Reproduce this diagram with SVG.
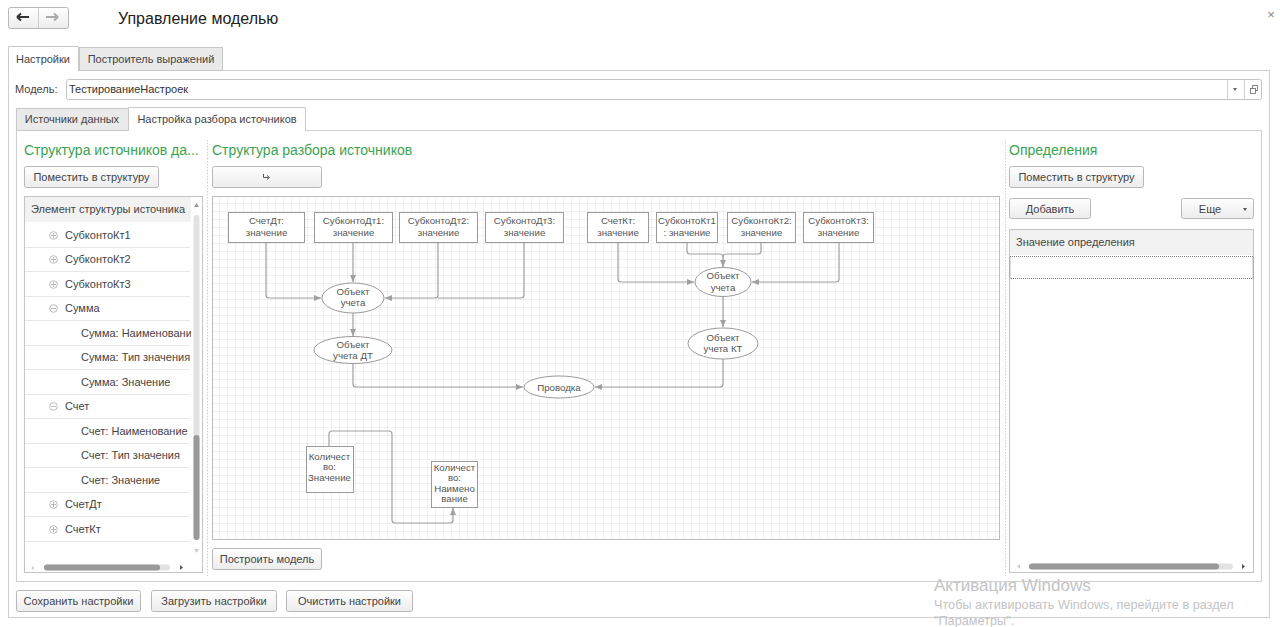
<svg xmlns="http://www.w3.org/2000/svg" width="1280" height="627" viewBox="0 0 1280 627">
<defs>
<style>
text{font-family:"Liberation Sans",Arial,sans-serif;fill:#444;}
.ui{font-size:11px;}
.hdr{font-size:14px;fill:#3aa34f;}
.btn{fill:url(#bg);stroke:#b8b8b8;stroke-width:1;}
.nt{font-size:9.7px;fill:#555;text-anchor:middle;}
.node{fill:#fff;stroke:#9a9a9a;stroke-width:1;}
.conn{fill:none;stroke:#a0a0a0;stroke-width:1.2;}
.row{stroke:#e6e6e6;stroke-width:1;}
.exp{fill:none;stroke:#aaa;stroke-width:0.8;}
.wm{fill:#c4c4c4;}
</style>
<linearGradient id="bg" x1="0" y1="0" x2="0" y2="1">
<stop offset="0" stop-color="#ffffff"/>
<stop offset="1" stop-color="#ececec"/>
</linearGradient>
<pattern id="grid" x="212" y="196" width="8" height="8" patternUnits="userSpaceOnUse">
<path d="M8 0V8M0 8H8" fill="none" stroke="#e2e2e2" stroke-width="1"/>
</pattern>
<marker id="arr" markerWidth="8" markerHeight="8" refX="7" refY="4" orient="auto" markerUnits="userSpaceOnUse">
<path d="M0 1L7 4L0 7Z" fill="#a0a0a0"/>
</marker>
<clipPath id="treeclip"><rect x="25" y="222" width="166" height="330"/></clipPath>
</defs>

<rect width="1280" height="627" fill="#fff"/>

<!-- header -->
<g id="navbuttons">
<rect x="8.5" y="7.5" width="60" height="21" rx="2" class="btn"/>
<line x1="38.5" y1="8" x2="38.5" y2="28" stroke="#ccc"/>
<path d="M17 17H29M17 17L21 13.5M17 17L21 20.5" stroke="#333" stroke-width="2" fill="none"/>
<path d="M58 17H46M58 17L54 13.5M58 17L54 20.5" stroke="#aaa" stroke-width="2" fill="none"/>
</g>
<text x="118" y="24" style="font-size:16px;fill:#222">Управление моделью</text>
<text x="1271" y="19" style="font-size:13px;fill:#888" text-anchor="middle">×</text>

<!-- outer tabs & panel -->
<g id="outerpanel">
<rect x="8.5" y="70.5" width="1261" height="547" fill="#fff" stroke="#cfcfcf"/>
<rect x="79.5" y="47.5" width="143" height="23" fill="#eaeaea" stroke="#c8c8c8"/>
<text x="151" y="63" class="ui" text-anchor="middle">Построитель выражений</text>
<path d="M8.5 71V46.5H78.5V71" fill="#fff" stroke="#c8c8c8"/>
<rect x="9" y="69" width="69" height="3" fill="#fff"/>
<text x="43" y="63" class="ui" text-anchor="middle">Настройки</text>
</g>

<g id="modelfield">
<text x="15" y="93" class="ui">Модель:</text>
<rect x="66.5" y="79.5" width="1195" height="20" rx="2" fill="#fff" stroke="#c4c4c4"/>
<line x1="1227.5" y1="80" x2="1227.5" y2="99" stroke="#d0d0d0"/>
<line x1="1244.5" y1="80" x2="1244.5" y2="99" stroke="#d0d0d0"/>
<path d="M1233 88L1237 88L1235 91Z" fill="#666"/>
<rect x="1250.5" y="88.5" width="5" height="5" fill="none" stroke="#666" stroke-width="0.8"/>
<path d="M1252.5 88.5V85.5H1257.5V90.5H1255.5" fill="none" stroke="#666" stroke-width="0.8"/>
<text x="69" y="93" class="ui" style="fill:#333">ТестированиеНастроек</text>
</g>

<!-- inner tabs & panel -->
<g id="innerpanel">
<rect x="16.5" y="130.5" width="1245" height="451" fill="#fff" stroke="#cfcfcf"/>
<rect x="16.5" y="108.5" width="112" height="22" fill="#eaeaea" stroke="#c8c8c8"/>
<text x="72" y="123" class="ui" text-anchor="middle">Источники данных</text>
<path d="M128.5 131V107.5H305.5V131" fill="#fff" stroke="#c8c8c8"/>
<rect x="129" y="129" width="176" height="3" fill="#fff"/>
<text x="217" y="123" class="ui" text-anchor="middle">Настройка разбора источников</text>
<line x1="207.5" y1="140" x2="207.5" y2="576" stroke="#cfcfcf" stroke-dasharray="1.5 1.5"/>
<line x1="1005.5" y1="140" x2="1005.5" y2="576" stroke="#cfcfcf" stroke-dasharray="1.5 1.5"/>
</g>

<!-- left panel -->
<g id="leftpanel">
<text x="24" y="155" class="hdr">Структура источников да...</text>
<rect x="24.5" y="166.5" width="134" height="21" rx="2" class="btn"/>
<text x="91.5" y="181" class="ui" text-anchor="middle">Поместить в структуру</text>
<rect x="24.5" y="196.5" width="178" height="376" fill="#fff" stroke="#c4c4c4"/>
<rect x="25" y="197" width="166" height="25" fill="#f2f2f2"/>
<text x="31" y="213" class="ui">Элемент структуры источника</text>
<g class="rows">
<line x1="25" y1="247.5" x2="190" y2="247.5" class="row"/>
<line x1="25" y1="271.5" x2="190" y2="271.5" class="row"/>
<line x1="25" y1="296.5" x2="190" y2="296.5" class="row"/>
<line x1="25" y1="320.5" x2="190" y2="320.5" class="row"/>
<line x1="25" y1="345.5" x2="190" y2="345.5" class="row"/>
<line x1="25" y1="369.5" x2="190" y2="369.5" class="row"/>
<line x1="25" y1="394.5" x2="190" y2="394.5" class="row"/>
<line x1="25" y1="418.5" x2="190" y2="418.5" class="row"/>
<line x1="25" y1="443.5" x2="190" y2="443.5" class="row"/>
<line x1="25" y1="467.5" x2="190" y2="467.5" class="row"/>
<line x1="25" y1="492.5" x2="190" y2="492.5" class="row"/>
<line x1="25" y1="516.5" x2="190" y2="516.5" class="row"/>
<line x1="25" y1="541.5" x2="190" y2="541.5" class="row"/>
</g>
<g class="exps">
<circle cx="53.5" cy="235.5" r="3.8" class="exp"/><path d="M51 235.5H56M53.5 233V238" class="exp"/>
<circle cx="53.5" cy="259.5" r="3.8" class="exp"/><path d="M51 259.5H56M53.5 257V262" class="exp"/>
<circle cx="53.5" cy="284.5" r="3.8" class="exp"/><path d="M51 284.5H56M53.5 282V287" class="exp"/>
<circle cx="53.5" cy="308.5" r="3.8" class="exp"/><path d="M51 308.5H56" class="exp"/>
<circle cx="53.5" cy="406.5" r="3.8" class="exp"/><path d="M51 406.5H56" class="exp"/>
<circle cx="53.5" cy="504.5" r="3.8" class="exp"/><path d="M51 504.5H56M53.5 502V507" class="exp"/>
<circle cx="53.5" cy="529.5" r="3.8" class="exp"/><path d="M51 529.5H56M53.5 527V532" class="exp"/>
</g>
<g class="ui" clip-path="url(#treeclip)">
<text x="65" y="239">СубконтоКт1</text>
<text x="65" y="263">СубконтоКт2</text>
<text x="65" y="288">СубконтоКт3</text>
<text x="65" y="312">Сумма</text>
<text x="81" y="337">Сумма: Наименовани</text>
<text x="81" y="361">Сумма: Тип значения</text>
<text x="81" y="386">Сумма: Значение</text>
<text x="65" y="410">Счет</text>
<text x="81" y="435">Счет: Наименование</text>
<text x="81" y="459">Счет: Тип значения</text>
<text x="81" y="484">Счет: Значение</text>
<text x="65" y="508">СчетДт</text>
<text x="65" y="533">СчетКт</text>
</g>
<path d="M194 207L196.5 203L199 207Z" fill="#999"/>
<rect x="193.5" y="215" width="6" height="325" rx="3" fill="#e2e2e2"/>
<rect x="193.5" y="435" width="6" height="105" rx="3" fill="#9a9a9a"/>
<path d="M194 549L196.5 553L199 549Z" fill="#ccc"/>
<path d="M34 566L31 568L34 570Z" fill="#ccc"/>
<rect x="44" y="564.5" width="126" height="6" rx="3" fill="#e2e2e2"/>
<rect x="44" y="564.5" width="116" height="6" rx="3" fill="#9a9a9a"/>
<path d="M180 565L183 567.5L180 570Z" fill="#555"/>
</g>

<!-- center panel -->
<g id="centerpanel">
<text x="212" y="155" class="hdr">Структура разбора источников</text>
<rect x="212.5" y="166.5" width="109" height="21" rx="2" class="btn"/>
<path d="M263.5 174V177.5H268.5" fill="none" stroke="#555" stroke-width="1"/>
<path d="M267 175.5L269.5 177.5L267 179.5" fill="none" stroke="#555" stroke-width="1"/>
<rect x="212.5" y="196.5" width="787" height="343" fill="#fff" stroke="#bdbdbd"/>
<rect x="213" y="197" width="786" height="342" fill="url(#grid)"/>
<rect x="212.5" y="548.5" width="109" height="21" rx="2" class="btn"/>
<text x="267" y="563" class="ui" text-anchor="middle">Построить модель</text>
</g>

<!-- connectors -->
<g id="connectors">
<path d="M266 243V295Q266 298 269 298H321" class="conn" marker-end="url(#arr)"/>
<path d="M353 243V282" class="conn" marker-end="url(#arr)"/>
<path d="M438 243V295Q438 298 435 298H385" class="conn" marker-end="url(#arr)"/>
<path d="M524 243V295Q524 298 521 298H438" class="conn"/>
<path d="M353 313V336" class="conn" marker-end="url(#arr)"/>
<path d="M353 363V384Q353 387 356 387H523" class="conn" marker-end="url(#arr)"/>
<path d="M618 243V279Q618 282 621 282H694" class="conn" marker-end="url(#arr)"/>
<path d="M687 243V251Q687 254 690 254H720Q723 254 723 257V267" class="conn" marker-end="url(#arr)"/>
<path d="M761 243V251Q761 254 758 254H726Q723 254 723 257" class="conn"/>
<path d="M839 243V279Q839 282 836 282H752" class="conn" marker-end="url(#arr)"/>
<path d="M723 297V327" class="conn" marker-end="url(#arr)"/>
<path d="M723 359V384Q723 387 720 387H595" class="conn" marker-end="url(#arr)"/>
<path d="M329 446V434Q329 431 332 431H389Q392 431 392 434V520Q392 523 395 523H450Q453 523 453 520V508" class="conn" marker-end="url(#arr)"/>
</g>

<!-- nodes -->
<g id="n-schetdt"><rect x="228.5" y="212.5" width="76" height="30" class="node"/><text x="266.5" y="224" class="nt">СчетДт:</text><text x="266.5" y="236" class="nt">значение</text></g>
<g id="n-subdt1"><rect x="314.5" y="212.5" width="78" height="30" class="node"/><text x="353.5" y="224" class="nt">СубконтоДт1:</text><text x="353.5" y="236" class="nt">значение</text></g>
<g id="n-subdt2"><rect x="399.5" y="212.5" width="78" height="30" class="node"/><text x="438.5" y="224" class="nt">СубконтоДт2:</text><text x="438.5" y="236" class="nt">значение</text></g>
<g id="n-subdt3"><rect x="485.5" y="212.5" width="78" height="30" class="node"/><text x="524.5" y="224" class="nt">СубконтоДт3:</text><text x="524.5" y="236" class="nt">значение</text></g>
<g id="n-schetkt"><rect x="587.5" y="212.5" width="61" height="30" class="node"/><text x="618" y="224" class="nt">СчетКт:</text><text x="618" y="236" class="nt">значение</text></g>
<g id="n-subkt1"><rect x="656.5" y="212.5" width="61" height="30" class="node"/><text x="687" y="224" class="nt">СубконтоКт1</text><text x="687" y="236" class="nt">: значение</text></g>
<g id="n-subkt2"><rect x="727.5" y="212.5" width="68" height="30" class="node"/><text x="761.5" y="224" class="nt">СубконтоКт2:</text><text x="761.5" y="236" class="nt">значение</text></g>
<g id="n-subkt3"><rect x="803.5" y="212.5" width="70" height="30" class="node"/><text x="838.5" y="224" class="nt">СубконтоКт3:</text><text x="838.5" y="236" class="nt">значение</text></g>

<g id="n-obj-dt"><ellipse cx="353" cy="298" rx="31" ry="15" class="node"/><text x="353" y="295" class="nt">Объект</text><text x="353" y="306" class="nt">учета</text></g>
<g id="n-objdt"><ellipse cx="353" cy="350" rx="39" ry="13.5" class="node"/><text x="353" y="348" class="nt">Объект</text><text x="353" y="359" class="nt">учета ДТ</text></g>
<g id="n-provodka"><ellipse cx="559" cy="387" rx="35" ry="11" class="node"/><text x="559" y="391" class="nt">Проводка</text></g>
<g id="n-obj-kt"><ellipse cx="723" cy="282" rx="28" ry="14.5" class="node"/><text x="723" y="279" class="nt">Объект</text><text x="723" y="291" class="nt">учета</text></g>
<g id="n-objkt"><ellipse cx="723" cy="343.5" rx="35" ry="15.5" class="node"/><text x="723" y="341" class="nt">Объект</text><text x="723" y="352" class="nt">учета КТ</text></g>

<g id="n-kolznach"><rect x="306.5" y="446.5" width="47" height="46" class="node"/><text x="329.5" y="460" class="nt">Количест</text><text x="329.5" y="470" class="nt">во:</text><text x="329.5" y="481" class="nt">Значение</text></g>
<g id="n-kolnaim"><rect x="431.5" y="461.5" width="46" height="46" class="node"/><text x="454.5" y="471" class="nt">Количест</text><text x="454.5" y="481" class="nt">во:</text><text x="454.5" y="492" class="nt">Наимено</text><text x="454.5" y="502" class="nt">вание</text></g>

<!-- right panel -->
<g id="rightpanel">
<text x="1009" y="155" class="hdr">Определения</text>
<rect x="1009.5" y="166.5" width="134" height="21" rx="2" class="btn"/>
<text x="1076.5" y="181" class="ui" text-anchor="middle">Поместить в структуру</text>
<rect x="1009.5" y="198.5" width="81" height="20" rx="2" class="btn"/>
<text x="1050" y="213" class="ui" text-anchor="middle">Добавить</text>
<rect x="1181.5" y="198.5" width="72" height="20" rx="2" class="btn"/>
<text x="1210" y="213" class="ui" text-anchor="middle">Еще</text>
<path d="M1243 208L1247 208L1245 211Z" fill="#555"/>
<rect x="1009.5" y="229.5" width="244" height="343" fill="#fff" stroke="#c4c4c4"/>
<rect x="1010" y="230" width="243" height="25" fill="#f2f2f2"/>
<text x="1016" y="246" class="ui">Значение определения</text>
<rect x="1010" y="256.5" width="243" height="22" fill="none" stroke="#555" stroke-width="0.8" stroke-dasharray="1 1"/>
<path d="M1020 564L1017 566.5L1020 569Z" fill="#ccc"/>
<rect x="1029" y="563.5" width="204" height="6" rx="3" fill="#e2e2e2"/>
<rect x="1029" y="563.5" width="190" height="6" rx="3" fill="#9a9a9a"/>
<path d="M1242 564L1245 566.5L1242 569Z" fill="#555"/>
</g>

<!-- bottom buttons -->
<g id="bottombuttons">
<rect x="16.5" y="590.5" width="124" height="21" rx="2" class="btn"/>
<text x="78.5" y="605" class="ui" text-anchor="middle">Сохранить настройки</text>
<rect x="151.5" y="590.5" width="125" height="21" rx="2" class="btn"/>
<text x="214" y="605" class="ui" text-anchor="middle">Загрузить настройки</text>
<rect x="286.5" y="590.5" width="126" height="21" rx="2" class="btn"/>
<text x="349.5" y="605" class="ui" text-anchor="middle">Очистить настройки</text>
</g>

<!-- watermark -->
<g id="watermark">
<text x="934" y="591" class="wm" style="font-size:17px">Активация Windows</text>
<text x="934" y="609" class="wm" style="font-size:12.7px">Чтобы активировать Windows, перейдите в раздел</text>
<text x="934" y="625" class="wm" style="font-size:12.7px">"Параметры".</text>
</g>
</svg>
